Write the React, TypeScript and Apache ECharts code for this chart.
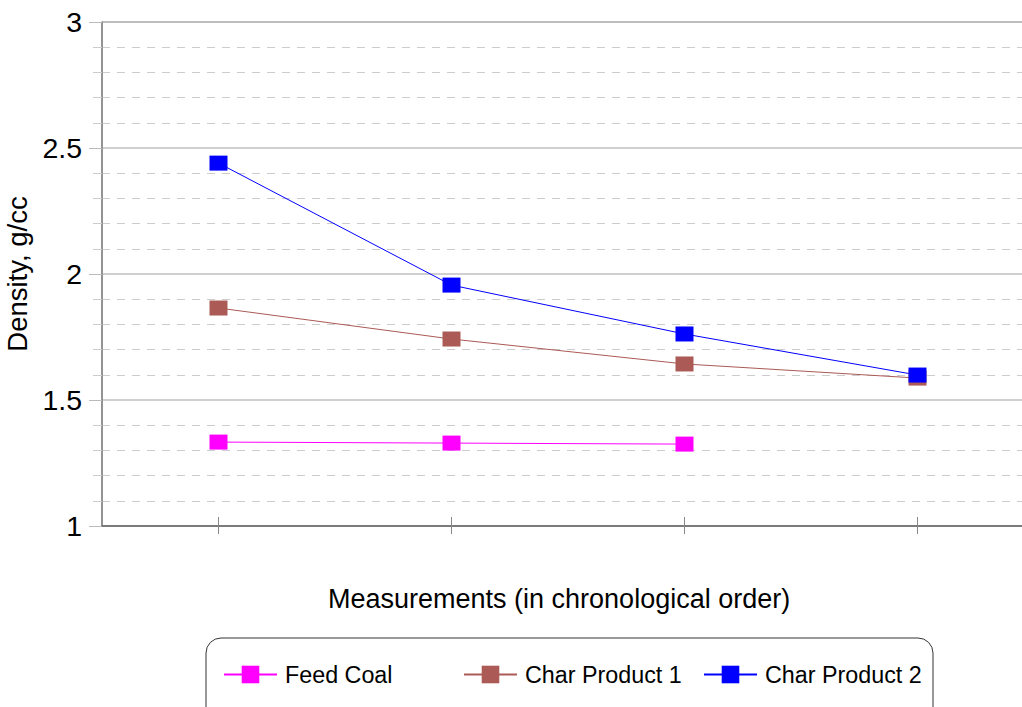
import React, { useEffect, useRef } from "react";
import * as echarts from "echarts";

const categories = ["1", "2", "3", "4"];
const feedCoal = [1.333, 1.329, 1.325, null];
const charProduct1 = [1.865, 1.742, 1.643, 1.587];
const charProduct2 = [2.44, 1.956, 1.762, 1.599];
const seriesNames = ["Feed Coal", "Char Product 1", "Char Product 2"];
const seriesColors = ["#ff00ff", "#ab5a55", "#0000ff"];
const yTitle = "Density, g/cc";
const xTitle = "Measurements (in chronological order)";

const FONT = "'Liberation Sans', Arial, sans-serif";

export default function App() {
  const ref = useRef<HTMLDivElement>(null);
  useEffect(() => {
    if (!ref.current) return;
    const chart = echarts.init(ref.current, null, { renderer: "svg" });
    const data = [feedCoal, charProduct1, charProduct2];
    const legendLefts = [218, 458, 698];
    chart.setOption({
      animation: false,
      textStyle: { fontFamily: FONT },
      grid: {
        left: 102,
        top: 22,
        width: 932,
        height: 504,
        outerBoundsMode: "none",
        containLabel: false,
        show: true,
        borderColor: "#666666",
        borderWidth: 1,
        backgroundColor: "transparent",
      },
      xAxis: [
        {
          type: "category",
          data: categories,
          boundaryGap: true,
          axisLine: { lineStyle: { color: "#666666", width: 1.5 } },
          axisTick: { show: true, interval: 0, alignWithLabel: true, length: 8, lineStyle: { color: "#888888", width: 1 } },
          axisLabel: { show: false },
        },
        {
          type: "category",
          data: categories,
          boundaryGap: true,
          position: "bottom",
          axisLine: { show: false },
          axisTick: { show: true, interval: 0, alignWithLabel: true, inside: true, length: 9, lineStyle: { color: "#888888", width: 1 } },
          axisLabel: { show: false },
        },
      ],
      yAxis: {
        type: "value",
        min: 1,
        max: 3,
        interval: 0.5,
        name: yTitle,
        nameLocation: "middle",
        nameGap: 62,
        nameTextStyle: { fontSize: 27.5, color: "#000", fontFamily: FONT },
        axisLine: { show: true, lineStyle: { color: "#888888", width: 1.5 } },
        axisTick: { show: true, length: 13, lineStyle: { color: "#bbbbbb" } },
        minorTick: { show: true, splitNumber: 5, length: 9, lineStyle: { color: "#cccccc" } },
        axisLabel: { fontSize: 28.5, color: "#000", margin: 20, fontFamily: FONT },
        splitLine: { show: true, lineStyle: { color: "#c0c0c0", width: 1.5 } },
        minorSplitLine: { show: true, lineStyle: { color: "#cccccc", type: [8, 7], width: 1 } },
      },
      legend: seriesNames.map((n, i) => ({
        data: [n],
        left: legendLefts[i],
        top: 658,
        itemWidth: 53,
        itemHeight: 22,
        textStyle: { fontSize: 23.3, color: "#000", fontFamily: FONT, padding: [0, 0, 0, 3] },
      })),
      graphic: [
        {
          type: "text",
          left: 560 - 232,
          top: 585,
          style: { text: xTitle, fontSize: 27, fill: "#000", fontFamily: FONT },
        },
        {
          type: "rect",
          shape: { x: 206, y: 638, width: 727, height: 100, r: 15 },
          style: { fill: "none", stroke: "#333333", lineWidth: 1 },
        },
      ],
      series: seriesNames.map((n, i) => ({
        name: n,
        type: "line",
        data: data[i],
        symbol: "rect",
        symbolSize: [18, 15],
        lineStyle: { color: seriesColors[i], width: 1 },
        itemStyle: { color: seriesColors[i] },
        connectNulls: false,
      })),
    });
    return () => chart.dispose();
  }, []);
  return (
    <div
      ref={ref}
      style={{ position: "absolute", left: 0, top: 0, width: 1022, height: 707 }}
    />
  );
}
